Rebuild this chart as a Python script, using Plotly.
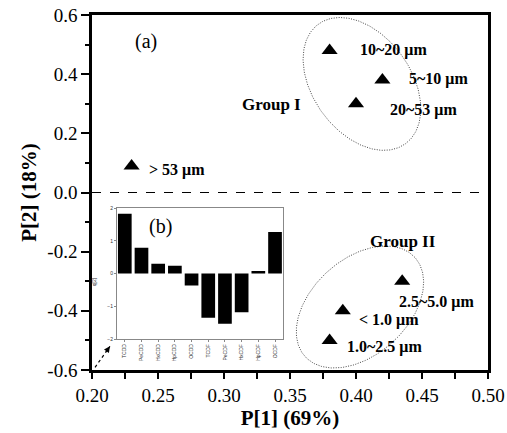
import numpy as np
import plotly.graph_objects as go

# ---- data ----
sizes = ["> 53 μm", "10~20 μm", "5~10 μm", "20~53 μm", "2.5~5.0 μm", "< 1.0 μm", "1.0~2.5 μm"]
p1 = [0.23, 0.38, 0.42, 0.40, 0.435, 0.39, 0.38]
p2 = [0.09, 0.48, 0.38, 0.30, -0.30, -0.40, -0.50]

congeners = ["TCDD", "PeCDD", "HxCDD", "HpCDD", "OCDD", "TCDF", "PeCDF", "HxCDF", "HpCDF", "OCDF"]
loadings = [1.83, 0.79, 0.30, 0.24, -0.36, -1.35, -1.53, -1.18, 0.08, 1.27]

x_ticks = [0.20, 0.25, 0.30, 0.35, 0.40, 0.45, 0.50]
y_ticks = [-0.6, -0.4, -0.2, 0.0, 0.2, 0.4, 0.6]

# label anchor positions (left edge, data coords)
label_pos = {
    "> 53 μm": (0.2417, 0.076),
    "10~20 μm": (0.4015, 0.482),
    "5~10 μm": (0.4386, 0.384),
    "20~53 μm": (0.424, 0.279),
    "2.5~5.0 μm": (0.431, -0.370),
    "< 1.0 μm": (0.4008, -0.431),
    "1.0~2.5 μm": (0.3917, -0.522),
}

FONT = "Liberation Serif, Times New Roman, serif"
W, H = 507, 433
ML, MR, MT, MB = 92, 19, 15, 63
PW, PH = W - ML - MR, H - MT - MB
XR, YR = [0.2, 0.5], [-0.6, 0.6]
sx = (XR[1] - XR[0]) / PW
sy = (YR[1] - YR[0]) / PH


def ellipse(cx, cy, a, b, theta_deg, n=300):
    t = np.linspace(0, 2 * np.pi, n)
    th = np.deg2rad(theta_deg)
    px = a * np.cos(t) * np.cos(th) - b * np.sin(t) * np.sin(th)
    py = a * np.cos(t) * np.sin(th) + b * np.sin(t) * np.cos(th)
    return cx + px * sx, cy + py * sy


fig = go.Figure()

# ellipses
for cx, cy, a, b, th in [(0.4045, 0.367, 74, 49, -54), (0.403, -0.387, 74, 48, 42)]:
    ex, ey = ellipse(cx, cy, a, b, th)
    fig.add_trace(go.Scatter(x=ex, y=ey, mode="lines",
                             line=dict(color="#444", width=1, dash="1px,1.5px"),
                             hoverinfo="skip", showlegend=False))

fig.add_trace(go.Scatter(x=p1, y=p2, mode="markers",
                         marker=dict(symbol="triangle-up", size=14, color="black"),
                         showlegend=False))

# inset bars
fig.add_trace(go.Bar(x=congeners, y=loadings, marker=dict(color="black", line=dict(width=0)),
                     xaxis="x2", yaxis="y2", showlegend=False, width=0.82))

annotations = []
for s in sizes:
    x, y = label_pos[s]
    annotations.append(dict(x=x, y=y, xref="x", yref="y", text="<b>%s</b>" % s,
                            showarrow=False, xanchor="left", yanchor="middle",
                            font=dict(family=FONT, size=16, color="black")))
annotations += [
    dict(x=0.312, y=0.296, xref="x", yref="y", text="<b>Group I</b>", showarrow=False,
         xanchor="left", yanchor="middle", font=dict(family=FONT, size=17, color="black")),
    dict(x=0.409, y=-0.167, xref="x", yref="y", text="<b>Group II</b>", showarrow=False,
         xanchor="left", yanchor="middle", font=dict(family=FONT, size=17, color="black")),
    dict(x=0.231, y=0.509, xref="x", yref="y", text="(a)", showarrow=False,
         xanchor="left", yanchor="middle", font=dict(family=FONT, size=20, color="black")),
    dict(x=0.139, y=0.403, xref="paper", yref="paper", text="(b)", showarrow=False,
         xanchor="left", yanchor="middle", font=dict(family=FONT, size=20, color="black")),
    dict(x=0.005, y=0.25, xref="paper", yref="paper", text="q[2]", showarrow=False,
         textangle=-90, xanchor="center", yanchor="middle",
         font=dict(family="Arial", size=5, color="#333")),
    # arrow head
    dict(x=0.2136, y=-0.520, xref="x", yref="y", ax=-5, ay=7, showarrow=True,
         arrowhead=2, arrowsize=1, arrowwidth=1.2, arrowcolor="black", text=""),
]

shapes = [
    dict(type="line", xref="x", yref="y", x0=0.2, x1=0.5, y0=0, y1=0,
         line=dict(color="black", width=1, dash="dash")),
    dict(type="line", xref="x", yref="y", x0=0.2023, y0=-0.591, x1=0.2136, y1=-0.520,
         line=dict(color="black", width=1.2, dash="dot")),
]

fig.update_layout(
    width=W, height=H,
    margin=dict(l=ML, r=MR, t=MT, b=MB, autoexpand=False),
    paper_bgcolor="white", plot_bgcolor="white",
    font=dict(family=FONT, color="black"),
    xaxis=dict(range=XR, domain=[0, 1], tickvals=x_ticks, ticktext=["%.2f" % v for v in x_ticks],
               automargin=False,
               showgrid=False, zeroline=False, showline=True, linecolor="black", linewidth=2.5,
               mirror=True, ticks="outside", ticklen=6, tickwidth=2, tickcolor="black",
               tickfont=dict(family=FONT, size=19),
               minor=dict(dtick=0.025, ticks="outside", ticklen=6, tickwidth=2, tickcolor="black"),
               title=dict(text="<b>P[1] (69%)</b>", font=dict(family=FONT, size=21), standoff=4)),
    yaxis=dict(range=YR, domain=[0, 1], tickvals=y_ticks, ticktext=["%.1f" % v for v in y_ticks],
               automargin=False,
               showgrid=False, zeroline=False, showline=True, linecolor="black", linewidth=2.5,
               mirror=True, ticks="outside", ticklen=8, tickwidth=2, tickcolor="black",
               tickfont=dict(family=FONT, size=19),
               minor=dict(dtick=0.1, ticks="outside", ticklen=4, tickwidth=2, tickcolor="black"),
               title=dict(text="<b>P[2] (18%)</b>", font=dict(family=FONT, size=21), standoff=6)),
    xaxis2=dict(domain=[0.063, 0.482], anchor="y2", range=[-0.47, 9.47], automargin=False,
                showgrid=False, zeroline=False, showline=True, linecolor="#888", linewidth=1,
                mirror=True, ticks="outside", ticklen=2, tickcolor="#888",
                tickangle=-90, tickfont=dict(family="Arial", size=5, color="#333")),
    yaxis2=dict(domain=[0.087, 0.456], anchor="x2", range=[-2, 2], dtick=1, automargin=False,
                showgrid=False, zeroline=False, showline=True, linecolor="#888", linewidth=1,
                mirror=True, ticks="outside", ticklen=2, tickcolor="#888",
                tickfont=dict(family="Arial", size=5, color="#333")),
    bargap=0.18,
    annotations=annotations,
    shapes=shapes,
)

fig.write_html("out.html", config={"displayModeBar": False},
               post_script="document.body.style.margin='0';document.body.style.overflow='hidden';")
